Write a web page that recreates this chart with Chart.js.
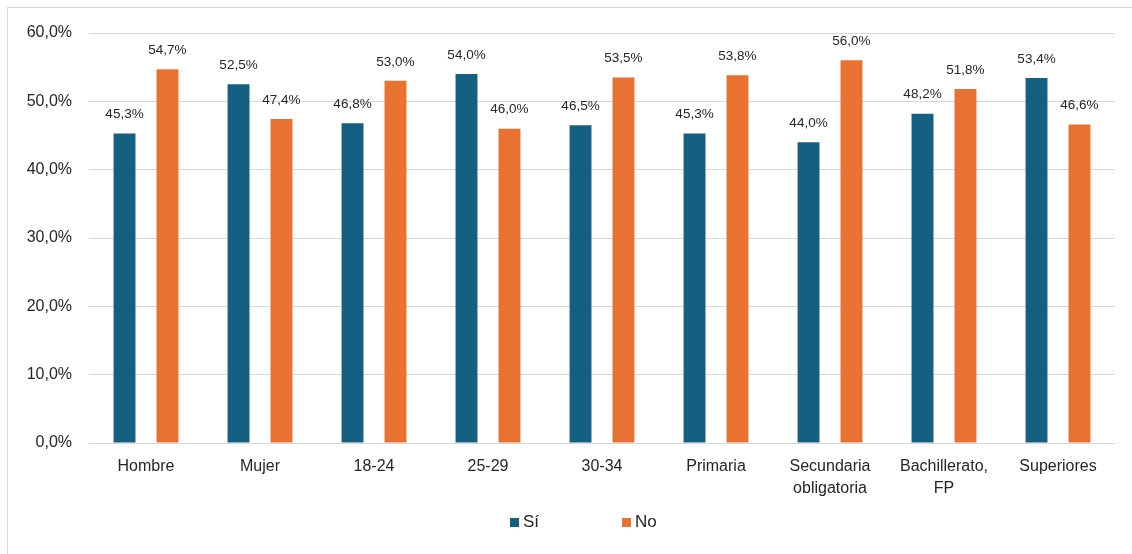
<!DOCTYPE html>
<html>
<head>
<meta charset="utf-8">
<script src="https://cdn.jsdelivr.net/npm/chart.js@4.4.0/dist/chart.umd.min.js"></script>
<style>
  body { margin: 0; background: #fff; font-family: "Liberation Sans", Arial, sans-serif; }
  #marco { position: absolute; left: 7px; top: 7px; width: 1140px; height: 560px; border: 1px solid #d9d9d9; }
  #caja { position: absolute; left: 0; top: 0; width: 1132px; height: 554px; }
  #leyenda { position: absolute; top: 512px; left: 0; width: 1132px; height: 20px; font-size: 17px; color: #262626; }
  .item { position: absolute; top: 0; height: 20px; display: flex; align-items: center; }
  .cuadro { width: 9px; height: 9px; margin-right: 4px; }
</style>
</head>
<body>
<div id="marco"></div>
<div id="caja"><canvas id="grafico" width="1132" height="554"></canvas></div>
<div id="leyenda"></div>
<script>
// datos
const categorias = ["Hombre", "Mujer", "18-24", "25-29", "30-34", "Primaria", ["Secundaria", "obligatoria"], ["Bachillerato,", "FP"], "Superiores"];
const valoresSi = [45.3, 52.5, 46.8, 54.0, 46.5, 45.3, 44.0, 48.2, 53.4];
const valoresNo = [54.7, 47.4, 53.0, 46.0, 53.5, 53.8, 56.0, 51.8, 46.6];
const series = ["Sí", "No"];
const colores = ["#156082", "#e97132"];

function formato(v) {
  return v.toFixed(1).replace('.', ',') + '%';
}

// etiquetas encima de las barras
const etiquetas = {
  id: 'etiquetas',
  afterDatasetsDraw(chart) {
    const ctx = chart.ctx;
    ctx.save();
    ctx.font = '13.5px "Liberation Sans", Arial, sans-serif';
    ctx.fillStyle = '#262626';
    ctx.textAlign = 'center';
    ctx.textBaseline = 'middle';
    chart.data.datasets.forEach((ds, i) => {
      chart.getDatasetMeta(i).data.forEach((bar, j) => {
        ctx.fillText(formato(ds.data[j]), bar.x, bar.y - 19);
      });
    });
    ctx.restore();
  }
};

const fuente = '"Liberation Sans", Arial, sans-serif';
const ctx = document.getElementById('grafico').getContext('2d');
new Chart(ctx, {
  type: 'bar',
  data: {
    labels: categorias,
    datasets: [
      { label: series[0], data: valoresSi, backgroundColor: colores[0] },
      { label: series[1], data: valoresNo, backgroundColor: colores[1] }
    ]
  },
  options: {
    responsive: false,
    animation: false,
    categoryPercentage: 0.754,
    barPercentage: 0.51,
    layout: { padding: { top: 33, right: 17, left: 0, bottom: 0 } },
    plugins: {
      legend: { display: false },
      tooltip: { enabled: false }
    },
    scales: {
      x: {
        grid: { display: false },
        border: { display: false },
        ticks: {
          color: '#262626',
          padding: 5,
          maxRotation: 0,
          autoSkip: false,
          font: { family: fuente, size: 16, lineHeight: 1.375 }
        },
        afterFit: s => { s.height = 111; }
      },
      y: {
        min: 0,
        max: 60,
        grid: { color: '#d9d9d9', drawTicks: false },
        border: { display: false },
        ticks: {
          stepSize: 10,
          color: '#262626',
          padding: 17,
          font: { family: fuente, size: 16 },
          callback: v => formato(v)
        },
        afterFit: s => { s.width = 89; }
      }
    }
  },
  plugins: [etiquetas]
});

// leyenda
const leyenda = document.getElementById('leyenda');
const posiciones = [510, 622];
series.forEach((nombre, i) => {
  const item = document.createElement('div');
  item.className = 'item';
  item.style.left = posiciones[i] + 'px';
  const cuadro = document.createElement('span');
  cuadro.className = 'cuadro';
  cuadro.style.background = colores[i];
  const texto = document.createElement('span');
  texto.textContent = nombre;
  item.appendChild(cuadro);
  item.appendChild(texto);
  leyenda.appendChild(item);
});
</script>
</body>
</html>
